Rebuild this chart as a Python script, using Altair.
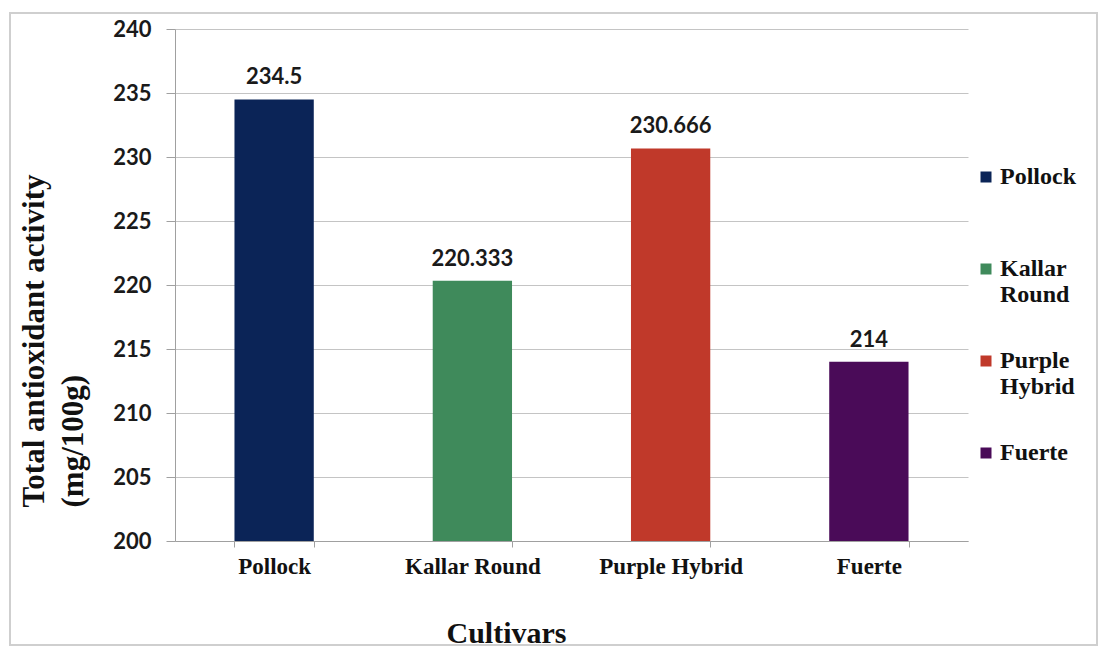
import altair as alt
import pandas as pd

# Total antioxidant activity per avocado cultivar
cultivars = ["Pollock", "Kallar Round", "Purple Hybrid", "Fuerte"]
activity = [234.5, 220.333, 230.666, 214]
bar_colors = ["#0b2457", "#3f8a5b", "#c0392a", "#4a0b58"]
y_ticks = [200, 205, 210, 215, 220, 225, 230, 235, 240]

df = pd.DataFrame({"Cultivar": cultivars, "Activity": activity})

SERIF = "Liberation Serif"
SANS = "Lato"
AXIS_GRAY = "#a0a0a0"

# split legend labels onto two lines, padding single words with a blank line
legend_label = (
    "length(split(datum.label, ' ')) > 1 ? split(datum.label, ' ') : [datum.label, ' ']"
)

x_enc = alt.X(
    "Cultivar:N",
    sort=cultivars,
    scale=alt.Scale(paddingInner=0.6, paddingOuter=0.3),
    axis=alt.Axis(
        title="Cultivars",
        labelAngle=0,
        tickBand="extent",
        tickSize=6,
        tickColor=AXIS_GRAY,
        domainColor=AXIS_GRAY,
        labelFont=SERIF,
        labelFontSize=23,
        labelFontWeight="bold",
        labelColor="#111111",
        labelPadding=8,
        titleFont=SERIF,
        titleFontSize=30,
        titleFontWeight="bold",
        titleColor="#111111",
        titleX=331,
        titleY=101,
        titleAlign="center",
        titleBaseline="alphabetic",
    ),
)

y_scale = alt.Scale(domain=[200, 240], nice=False, zero=False)

y_enc = alt.Y(
    "Activity:Q",
    scale=y_scale,
    axis=alt.Axis(
        values=y_ticks,
        grid=True,
        gridColor="#c4c4c4",
        domainColor=AXIS_GRAY,
        tickColor=AXIS_GRAY,
        tickSize=9,
        labelFont=SANS,
        labelFontSize=22,
        labelFontWeight="bold",
        labelColor="#1a1a1a",
        labelPadding=15,
        title=["Total antioxidant activity", "(mg/100g)"],
        titleFont=SERIF,
        titleFontSize=31,
        titleFontWeight="bold",
        titleColor="#111111",
        titleAngle=270,
        titleAlign="left",
        titleBaseline="alphabetic",
        titleX=-132,
        titleY=478,
        titleLineHeight=39,
    ),
)

color_enc = alt.Color(
    "Cultivar:N",
    sort=cultivars,
    scale=alt.Scale(domain=cultivars, range=bar_colors),
    legend=alt.Legend(
        title=None,
        orient="none",
        legendX=799,
        legendY=136,
        padding=0,
        symbolType="square",
        symbolSize=121,
        symbolStrokeWidth=0,
        labelFont=SERIF,
        labelFontSize=24,
        labelFontWeight="bold",
        labelColor="#111111",
        labelExpr=legend_label,
        labelBaseline="middle",
        labelOffset=2,
        rowPadding=42,
    ),
)

bars = alt.Chart(df).mark_bar().encode(
    x=x_enc,
    y=y_enc,
    y2=alt.datum(200),
    color=color_enc,
)

labels = alt.Chart(df).mark_text(
    font=SANS,
    fontSize=22,
    fontWeight="bold",
    color="#1a1a1a",
    baseline="alphabetic",
    dy=-15,
).encode(
    x=alt.X("Cultivar:N", sort=cultivars),
    y=alt.Y("Activity:Q", scale=y_scale),
    text=alt.Text("Activity:Q", format=".6~g"),
)

# light border framing the whole chart
frame = alt.Chart(pd.DataFrame({"k": [0]})).mark_rect(
    fill="transparent", stroke="#cfcfcf", strokeWidth=2
).encode(
    x=alt.value(-165),
    x2=alt.value(922),
    y=alt.value(-16),
    y2=alt.value(616),
)

chart = (
    alt.layer(frame, bars, labels)
    .properties(
        width=793,
        height=512,
        padding={"left": 175, "top": 29, "right": 136, "bottom": 106},
        autosize=alt.AutoSizeParams(type="none"),
        background="white",
    )
    .configure_view(strokeWidth=0)
)

chart.save("out.html", embed_options={"renderer": "svg", "actions": False})
